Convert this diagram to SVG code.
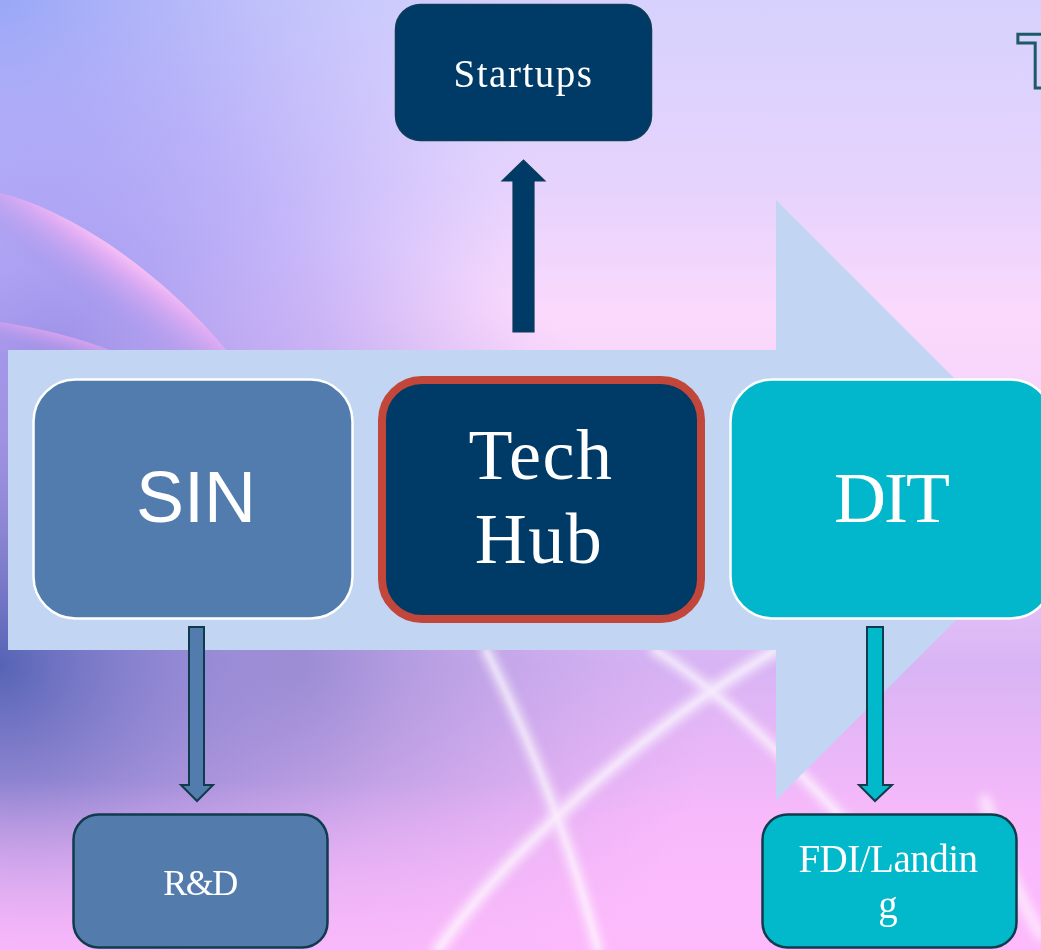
<svg xmlns="http://www.w3.org/2000/svg" width="1041" height="950" viewBox="0 0 1041 950">
  <defs>
    <linearGradient id="bgBase" gradientUnits="userSpaceOnUse" x1="0" y1="0" x2="0" y2="950">
      <stop offset="0" stop-color="#D6D2FD"/>
      <stop offset="0.2" stop-color="#E6D3FD"/>
      <stop offset="0.33" stop-color="#FAD9FC"/>
      <stop offset="0.55" stop-color="#F3CFFB"/>
      <stop offset="0.7" stop-color="#D8B4F4"/>
      <stop offset="0.86" stop-color="#F6B9FA"/>
      <stop offset="1" stop-color="#FDBEFC"/>
    </linearGradient>
    <radialGradient id="gBlueTL" gradientUnits="userSpaceOnUse" cx="0" cy="0" r="560">
      <stop offset="0" stop-color="#8AA6F6" stop-opacity="1"/>
      <stop offset="0.5" stop-color="#B3BBFA" stop-opacity="0.6"/>
      <stop offset="1" stop-color="#C8C4FC" stop-opacity="0"/>
    </radialGradient>
    <radialGradient id="gPurpleL" gradientUnits="userSpaceOnUse" cx="60" cy="360" r="470">
      <stop offset="0" stop-color="#9A90EC" stop-opacity="0.95"/>
      <stop offset="0.55" stop-color="#B4A4F7" stop-opacity="0.55"/>
      <stop offset="1" stop-color="#C9B6FA" stop-opacity="0"/>
    </radialGradient>
    <radialGradient id="gDarkBL" gradientUnits="userSpaceOnUse" cx="0" cy="665" r="400">
      <stop offset="0" stop-color="#5060B2" stop-opacity="0.95"/>
      <stop offset="0.45" stop-color="#7E7BCA" stop-opacity="0.6"/>
      <stop offset="1" stop-color="#A48FDC" stop-opacity="0"/>
    </radialGradient>
    <radialGradient id="gMidB" gradientUnits="userSpaceOnUse" cx="300" cy="660" r="420">
      <stop offset="0" stop-color="#988AD0" stop-opacity="0.9"/>
      <stop offset="0.6" stop-color="#B59CE2" stop-opacity="0.4"/>
      <stop offset="1" stop-color="#C8A4EC" stop-opacity="0"/>
    </radialGradient>
    <linearGradient id="gBottomPink" gradientUnits="userSpaceOnUse" x1="0" y1="780" x2="0" y2="950">
      <stop offset="0" stop-color="#FCBBFC" stop-opacity="0"/>
      <stop offset="1" stop-color="#FCB9FB" stop-opacity="0.85"/>
    </linearGradient>
    <linearGradient id="gSwoosh1" gradientUnits="userSpaceOnUse" x1="115" y1="245" x2="75" y2="300">
      <stop offset="0" stop-color="#FCC3F6" stop-opacity="1"/>
      <stop offset="0.25" stop-color="#E8ADF3" stop-opacity="0.8"/>
      <stop offset="1" stop-color="#9A90E6" stop-opacity="0"/>
    </linearGradient>
    <linearGradient id="gSwoosh2" gradientUnits="userSpaceOnUse" x1="50" y1="328" x2="44" y2="350">
      <stop offset="0" stop-color="#E9A8F0" stop-opacity="0.9"/>
      <stop offset="1" stop-color="#B597E8" stop-opacity="0.2"/>
    </linearGradient>
    <filter id="soft" x="-20%" y="-20%" width="140%" height="140%">
      <feGaussianBlur stdDeviation="5"/>
    </filter>
    <filter id="soft2" x="-20%" y="-20%" width="140%" height="140%">
      <feGaussianBlur stdDeviation="2"/>
    </filter>
  </defs>
  <style>
    .serif { font-family: "Liberation Serif", "Times New Roman", serif; fill: #FFFFFF; }
    .sans { font-family: "Liberation Sans", Arial, sans-serif; fill: #FFFFFF; }
    .big { font-size: 72px; }
    .main { stroke: #FFFFFF; stroke-width: 2.5; }
    .sub { stroke: #0F3B4C; stroke-width: 2.5; }
    .conn { stroke: #0F3B4C; stroke-width: 2; stroke-linejoin: miter; }
    .swline { fill: none; stroke: #FFFFFF; stroke-linecap: round; }
  </style>

  <!-- background -->
  <g id="background">
    <rect x="0" y="0" width="1041" height="950" fill="url(#bgBase)"/>
    <rect x="0" y="0" width="1041" height="950" fill="url(#gBlueTL)"/>
    <rect x="0" y="0" width="1041" height="950" fill="url(#gPurpleL)"/>
    <rect x="0" y="0" width="1041" height="950" fill="url(#gMidB)"/>
    <rect x="0" y="0" width="1041" height="950" fill="url(#gDarkBL)"/>
    <rect x="0" y="780" width="1041" height="170" fill="url(#gBottomPink)"/>
    <path d="M0,193 C70,210 160,270 228,352 L0,352 Z" fill="url(#gSwoosh1)"/>
    <path d="M0,322 C40,328 80,338 115,352 L0,352 Z" fill="url(#gSwoosh2)"/>
    <g opacity="0.6">
      <path class="swline" d="M486,650 C530,740 570,840 598,950" stroke-width="12" filter="url(#soft)"/>
      <path class="swline" d="M438,950 C500,860 640,730 776,650" stroke-width="14" filter="url(#soft)"/>
      <path class="swline" d="M655,650 C720,690 800,770 880,860" stroke-width="12" filter="url(#soft)"/>
      <path class="swline" d="M985,800 C1000,850 1020,900 1041,935" stroke-width="12" filter="url(#soft)"/>
    </g>
    <g opacity="0.5">
      <path class="swline" d="M486,650 C530,740 570,840 598,950" stroke-width="3" filter="url(#soft2)"/>
      <path class="swline" d="M438,950 C500,860 640,730 776,650" stroke-width="3" filter="url(#soft2)"/>
      <path class="swline" d="M655,650 C720,690 800,770 880,860" stroke-width="2.5" filter="url(#soft2)"/>
    </g>
    <text x="1017" y="88" font-family="Liberation Sans, Arial, sans-serif" font-size="78" font-weight="bold" fill="none" stroke="#1E5A66" stroke-width="3">T</text>
  </g>

  <!-- big process arrow -->
  <g id="process-arrow">
    <polygon points="8,350 776,350 776,200 1076,500 776,800 776,650 8,650" fill="#C2D6F3"/>
  </g>

  <!-- connectors -->
  <g id="connectors">
    <polygon points="513,332 513,181 502,181 523.5,160 545,181 534,181 534,332" fill="#003A66" stroke="#0E3D55" stroke-width="1.2"/>
    <polygon class="conn" points="189,627 204,627 204,785 213,785 197,801 181,785 189,785" fill="#527CAD"/>
    <polygon class="conn" points="867,627 883,627 883,785 892,785 875,801 859,785 867,785" fill="#02B8CB"/>
  </g>

  <!-- nodes -->
  <g id="node-startups">
    <rect x="395.5" y="4.5" width="256" height="136" rx="25" ry="25" fill="#003A66" stroke="#0E3D55" stroke-width="1.5"/>
    <text class="serif" x="523.5" y="87" font-size="39" letter-spacing="1.5" text-anchor="middle">Startups</text>
  </g>

  <g id="node-sin">
    <rect class="main" x="33.5" y="379.5" width="319" height="239" rx="42" ry="42" fill="#527CAD"/>
    <text class="sans big" x="196" y="522" text-anchor="middle">SIN</text>
  </g>

  <g id="node-techhub">
    <rect x="382" y="380" width="319" height="239" rx="40" ry="40" fill="#003A66" stroke="#C2463A" stroke-width="8"/>
    <text class="serif big" x="541" y="479" text-anchor="middle" letter-spacing="1.5">Tech</text>
    <text class="serif big" x="539" y="563" text-anchor="middle" letter-spacing="1.5">Hub</text>
  </g>

  <g id="node-dit">
    <rect class="main" x="730.5" y="379.5" width="322" height="239" rx="42" ry="42" fill="#02B7CB"/>
    <text class="serif big" x="891" y="522" text-anchor="middle" letter-spacing="-2">DIT</text>
  </g>

  <g id="node-rd">
    <rect class="sub" x="73.5" y="814.5" width="254" height="133" rx="25" ry="25" fill="#537CAD"/>
    <text class="serif" x="200" y="895" font-size="36" letter-spacing="-1.5" text-anchor="middle">R&amp;D</text>
  </g>

  <g id="node-fdi">
    <rect class="sub" x="762.5" y="814.5" width="254" height="133" rx="25" ry="25" fill="#02B8CB"/>
    <text class="serif" x="888" y="872" font-size="39" letter-spacing="-0.5" text-anchor="middle">FDI/Landin</text>
    <text class="serif" x="888" y="918" font-size="39" text-anchor="middle">g</text>
  </g>
</svg>
